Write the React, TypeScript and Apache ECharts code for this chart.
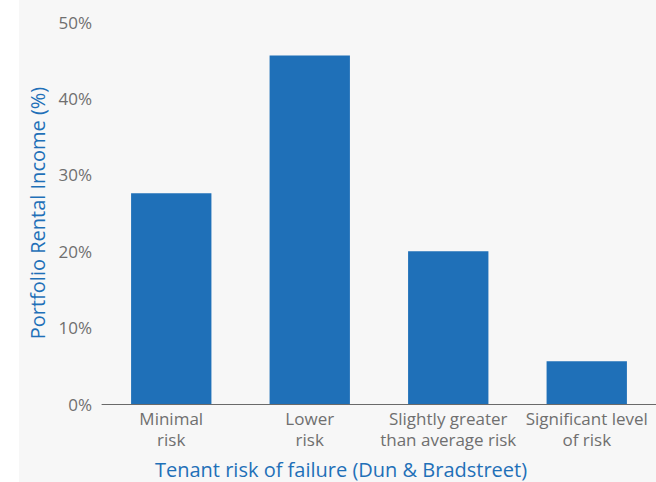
import React, { useEffect, useRef } from "react";
import * as echarts from "echarts";

const categories = [
  "Minimal\nrisk",
  "Lower\nrisk",
  "Slightly greater\nthan average risk",
  "Significant level\nof risk",
];
const values = [27.6, 45.6, 20.0, 5.6];
const yTicks = [0, 10, 20, 30, 40, 50];
const yAxisTitle = "Portfolio Rental Income (%)";
const xAxisTitle = "Tenant risk of failure (Dun & Bradstreet)";

const FONT = "'Open Sans', 'Noto Sans', sans-serif";
const BLUE = "#1f70b8";
const GRAY = "#6f6f6f";

export default function App() {
  const ref = useRef<HTMLDivElement>(null);
  useEffect(() => {
    if (!ref.current) return;
    const chart = echarts.init(ref.current, undefined, { renderer: "svg" });
    chart.setOption({
      animation: false,
      backgroundColor: "#f7f7f7",
      graphic: [
        {
          type: "rect",
          shape: { x: 0, y: 0, width: 19, height: 482 },
          style: { fill: "#ffffff" },
          z: -1,
        },
        {
          type: "text",
          x: 341,
          y: 469,
          style: {
            text: xAxisTitle,
            fill: BLUE,
            font: `20px ${FONT}`,
            align: "center",
            verticalAlign: "middle",
          },
        },
      ],
      grid: { left: 102, right: -2, top: 22, bottom: 78 },
      xAxis: {
        type: "category",
        data: categories,
        axisLine: { show: true, lineStyle: { color: "#6a6a6a", width: 1 } },
        axisTick: { show: false },
        axisLabel: {
          color: GRAY,
          fontFamily: FONT,
          fontSize: 17,
          lineHeight: 21,
          margin: 4,
          interval: 0,
        },
      },
      yAxis: {
        type: "value",
        min: yTicks[0],
        max: yTicks[yTicks.length - 1],
        interval: 10,
        name: yAxisTitle,
        nameLocation: "middle",
        nameGap: 55,
        nameTextStyle: { color: BLUE, fontFamily: FONT, fontSize: 20 },
        axisLine: { show: false },
        axisTick: { show: false },
        splitLine: { show: false },
        axisLabel: {
          color: GRAY,
          fontFamily: FONT,
          fontSize: 17,
          margin: 10,
          formatter: (v: number) => `${v}%`,
        },
      },
      series: [
        {
          type: "bar",
          data: values,
          barWidth: "58%",
          itemStyle: { color: BLUE },
        },
      ],
    });
    return () => chart.dispose();
  }, []);
  return (
    <div
      ref={ref}
      style={{ position: "absolute", left: 0, top: 0, width: 656, height: 482 }}
    />
  );
}
